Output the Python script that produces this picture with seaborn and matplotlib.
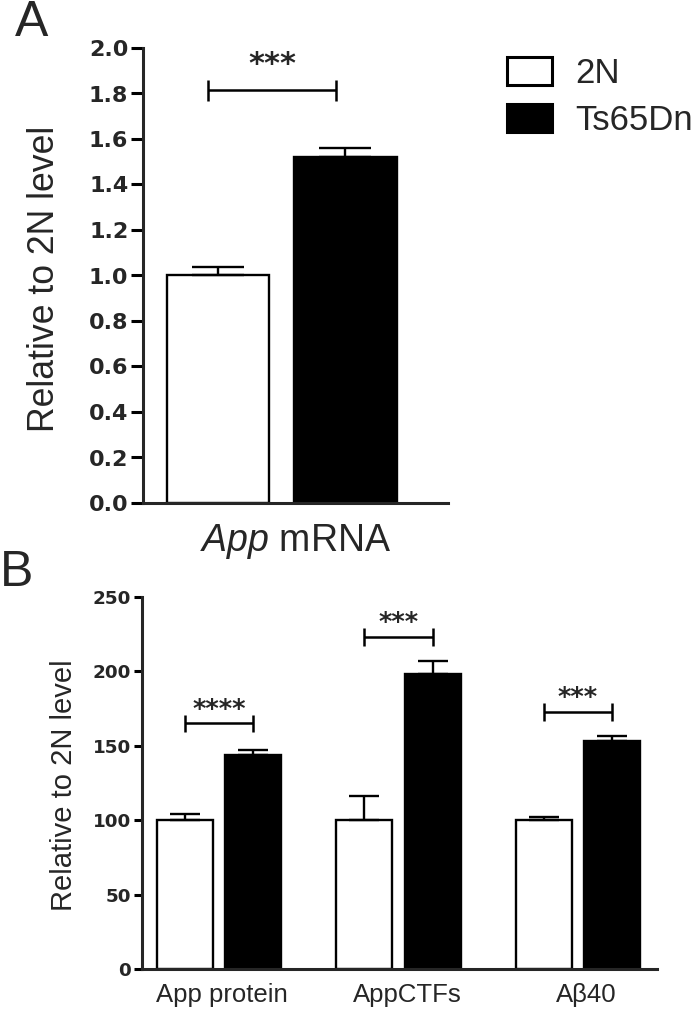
import numpy as np
import pandas as pd
import matplotlib
matplotlib.use("Agg")
import matplotlib.pyplot as plt
import matplotlib.transforms as mtransforms
from matplotlib.patches import Patch
import seaborn as sns

# Panel A: App mRNA
genotypes = ["2N", "Ts65Dn"]
mrna_label = ["App mRNA"]
mrna_mean = [1.00, 1.52]
mrna_sem = [0.037, 0.04]
sig_a_y = 1.815
sig_a_stars = "***"

# Panel B: protein / CTFs / Abeta40 (% of 2N)
protein_groups = ["App protein", "AppCTFs", "Aβ40"]
protein_2n = [100, 100, 100]
protein_2n_sem = [4.5, 16, 2.3]
protein_ts = [144, 198, 153]
protein_ts_sem = [3.5, 9, 3.6]
sig_b_y = [165, 223, 173]
sig_b_stars = ["****", "***", "***"]

palette = {"2N": "white", "Ts65Dn": "black"}

sns.set_style("ticks")
plt.rcParams['font.family'] = ['Liberation Sans', 'DejaVu Sans']
plt.rcParams['mathtext.fontset'] = 'custom'
plt.rcParams['mathtext.it'] = 'Liberation Sans:italic'
plt.rcParams['mathtext.rm'] = 'Liberation Sans'

df_a = pd.DataFrame({"measure": mrna_label * 2, "genotype": genotypes, "value": mrna_mean})
df_b = pd.DataFrame({
    "measure": protein_groups * 2,
    "genotype": ["2N"] * 3 + ["Ts65Dn"] * 3,
    "value": protein_2n + protein_ts,
})

fig = plt.figure(figsize=(6.98, 10.13), dpi=100)
ax_a = fig.add_axes([143 / 698, 1 - 503 / 1013, 305 / 698, 455 / 1013])
ax_b = fig.add_axes([142 / 698, 1 - 969 / 1013, 515 / 698, 372 / 1013])


def add_errors(ax, means, sems, capsize):
    bars = sorted(ax.patches, key=lambda p: p.get_x())
    xs = [b.get_x() + b.get_width() / 2 for b in bars]
    ax.errorbar(xs, means, yerr=[np.zeros(len(sems)), sems], fmt='none',
                ecolor='black', elinewidth=1.7, capsize=capsize, capthick=1.7, zorder=3)
    return xs


def add_bracket(ax, x1, x2, y, d, stars, star_dy, fs):
    kw = dict(color='black', lw=1.8, solid_capstyle='butt', clip_on=False)
    ax.plot([x1, x2], [y, y], **kw)
    ax.plot([x1, x1], [y - d, y + d], **kw)
    ax.plot([x2, x2], [y - d, y + d], **kw)
    ax.text((x1 + x2) / 2, y + star_dy, stars, ha='center', va='baseline',
            fontsize=fs, family='DejaVu Sans', fontweight='bold')


def style_axes(ax, lw, ticklen):
    ax.spines[['top', 'right']].set_visible(False)
    for s in ['left', 'bottom']:
        ax.spines[s].set_linewidth(lw)
    ax.tick_params(axis='y', length=ticklen, width=lw, pad=2, color='black')
    ax.tick_params(axis='x', length=0)
    ax.set_xlabel("")


def shift_labels(labels, offsets_px):
    for lbl, dx in zip(labels, offsets_px):
        lbl.set_transform(lbl.get_transform() +
                          mtransforms.ScaledTranslation(dx / 100, 0, fig.dpi_scale_trans))


# ---- Panel A
sns.barplot(data=df_a, x="measure", y="value", hue="genotype", palette=palette,
            edgecolor="black", linewidth=1.7, width=0.8, gap=0.19, saturation=1,
            errorbar=None, legend=False, ax=ax_a)
xs_a = add_errors(ax_a, mrna_mean, mrna_sem, 18.7)
ax_a.set_ylim(0, 2.0)
ax_a.set_xlim(-0.436, 0.524)
style_axes(ax_a, 2.2, 8.6)
yt = np.arange(0, 2.01, 0.2)
ax_a.set_yticks(yt)
ax_a.set_yticklabels([f"{v:.1f}" for v in yt], fontfamily='DejaVu Sans',
                     fontweight='bold', fontsize=16)
ax_a.set_xticks([0])
words = mrna_label[0].split()
ax_a.set_xticklabels([r"$\mathit{" + words[0] + "}$ " + words[1]], fontsize=27)
ax_a.tick_params(axis='x', pad=14)
shift_labels(ax_a.get_xticklabels(), [14])
ax_a.set_ylabel("Relative to 2N level", fontsize=25.7)
ax_a.yaxis.set_label_coords(-0.264, 0.493)
add_bracket(ax_a, xs_a[0] - 0.03, xs_a[1] - 0.03, sig_a_y, 0.046, sig_a_stars, 0.075, 22)

ax_a.legend(handles=[Patch(facecolor='white', edgecolor='black', linewidth=2.2, label=genotypes[0]),
                     Patch(facecolor='black', edgecolor='black', linewidth=2.2, label=genotypes[1])],
            loc='upper left', bbox_to_anchor=(507 / 698, 1 - 57 / 1013),
            bbox_transform=fig.transFigure, frameon=False, fontsize=25,
            handlelength=1.3, handleheight=0.86, handletextpad=0.66,
            labelspacing=0.4, borderpad=0, borderaxespad=0)

# ---- Panel B
sns.barplot(data=df_b, x="measure", y="value", hue="genotype", palette=palette,
            edgecolor="black", linewidth=1.7, width=0.76, gap=0.18, saturation=1,
            errorbar=None, legend=False, ax=ax_b)
means_b = [m for pair in zip(protein_2n, protein_ts) for m in pair]
sems_b = [s for pair in zip(protein_2n_sem, protein_ts_sem) for s in pair]
xs_b = add_errors(ax_b, means_b, sems_b, 10.8)
ax_b.set_ylim(0, 250)
ax_b.set_xlim(-0.429, 2.44)
style_axes(ax_b, 2.2, 6)
yt = np.arange(0, 251, 50)
ax_b.set_yticks(yt)
ax_b.set_yticklabels([f"{v:d}" for v in yt], fontfamily='DejaVu Sans',
                     fontweight='bold', fontsize=13.2)
ax_b.set_xticks(range(len(protein_groups)))
ax_b.set_xticklabels(protein_groups, fontsize=18.5)
ax_b.tick_params(axis='x', pad=10)
shift_labels(ax_b.get_xticklabels(), [3, 9, 8])
ax_b.set_ylabel("Relative to 2N level", fontsize=21)
ax_b.yaxis.set_label_coords(-0.124, 0.495)
for i in range(len(protein_groups)):
    add_bracket(ax_b, xs_b[2 * i], xs_b[2 * i + 1], sig_b_y[i], 6.0, sig_b_stars[i], 4, 18.5)

# panel letters
fig.text(15 / 698, 1 - 0 / 1013, "A", fontsize=36, va='top', ha='left')
fig.text(0 / 698, 1 - 550 / 1013, "B", fontsize=36, va='top', ha='left')

fig.savefig("out.png", dpi=100, facecolor='white')
